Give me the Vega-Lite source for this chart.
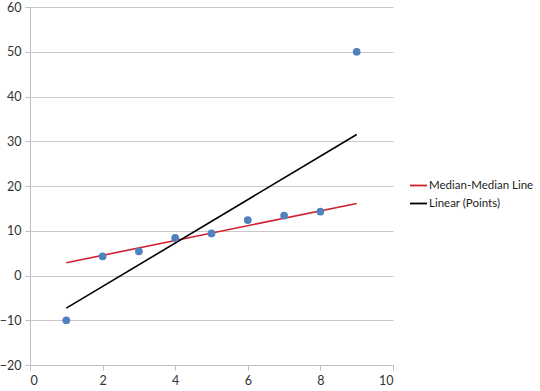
{
  "$schema": "https://vega.github.io/schema/vega-lite/v6.json",
  "width": 363,
  "height": 358,
  "autosize": {"type": "none"},
  "padding": {"left": 30, "top": 7, "right": 147, "bottom": 26},
  "background": "white",
  "config": {
    "view": {"stroke": null},
    "font": "Lato",
    "axis": {
      "labelFont": "Lato",
      "labelFontSize": 12.5,
      "labelColor": "#333333",
      "domainColor": "#BFBFBF",
      "tickColor": "#BFBFBF",
      "gridColor": "#C8C8C8",
      "tickSize": 5,
      "title": null
    }
  },
  "datasets": {
    "points": [
      {"x": 1, "y": -10},
      {"x": 2, "y": 4.3},
      {"x": 3, "y": 5.4},
      {"x": 4, "y": 8.4},
      {"x": 5, "y": 9.4},
      {"x": 6, "y": 12.4},
      {"x": 7, "y": 13.4},
      {"x": 8, "y": 14.3},
      {"x": 9, "y": 50}
    ],
    "lines": [
      {"series": "Median-Median Line", "x": 1, "y": 2.85},
      {"series": "Median-Median Line", "x": 9, "y": 16.1},
      {"series": "Linear (Points)", "x": 1, "y": -7.3},
      {"series": "Linear (Points)", "x": 9, "y": 31.5}
    ]
  },
  "layer": [
    {
      "data": {"name": "lines"},
      "mark": {"type": "line", "strokeWidth": 1.6},
      "encoding": {
        "x": {
          "field": "x", "type": "quantitative",
          "scale": {"domain": [0, 10], "nice": false, "zero": false},
          "axis": {"values": [0, 2, 4, 6, 8, 10], "grid": false, "labelPadding": 4}
        },
        "y": {
          "field": "y", "type": "quantitative",
          "scale": {"domain": [-20, 60], "nice": false},
          "axis": {"values": [-20, -10, 0, 10, 20, 30, 40, 50, 60], "grid": true, "labelPadding": 4}
        },
        "color": {
          "field": "series", "type": "nominal",
          "scale": {"domain": ["Median-Median Line", "Linear (Points)"], "range": ["#D0202E", "#000000"]},
          "legend": {
            "title": null,
            "orient": "none",
            "legendX": 379,
            "legendY": 169,
            "symbolType": "stroke",
            "symbolSize": 289,
            "symbolStrokeWidth": 1.8,
            "labelFont": "Lato",
            "labelFontSize": 11.5,
            "labelColor": "#222222",
            "labelOffset": 1,
            "labelLimit": 200,
            "rowPadding": 3
          }
        }
      }
    },
    {
      "data": {"name": "points"},
      "mark": {"type": "point", "filled": true, "opacity": 1, "size": 60, "color": "#4F81BD"},
      "encoding": {
        "x": {"field": "x", "type": "quantitative"},
        "y": {"field": "y", "type": "quantitative"}
      }
    }
  ]
}
